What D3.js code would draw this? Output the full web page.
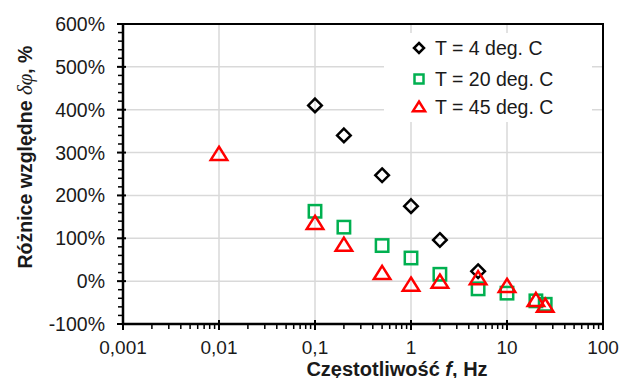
<!DOCTYPE html>
<html>
<head>
<meta charset="utf-8">
<script src="https://cdn.jsdelivr.net/npm/d3@7"></script>
<style>
  body { margin: 0; background: #fff; }
  text { font-family: Arial, "Liberation Sans", sans-serif; }
</style>
</head>
<body>
<svg id="chart" width="633" height="378"></svg>
<script>
// frequencies (Hz) and relative differences (%)
var freq4 = [0.1, 0.2, 0.5, 1, 2, 5];
var diff4 = [410, 340, 247, 175, 96, 23];

var freq20 = [0.1, 0.2, 0.5, 1, 2, 5, 10, 20, 25];
var diff20 = [163, 126, 83, 54, 16, -18, -28, -46, -54];

var freq45 = [0.01, 0.1, 0.2, 0.5, 1, 2, 5, 10, 20, 25];
var diff45 = [296, 135, 84, 18, -9, -2, 6, -12, -45, -58];

var xTicks = [0.001, 0.01, 0.1, 1, 10, 100];
var xTickLabels = ['0,001', '0,01', '0,1', '1', '10', '100'];
var yTicks = [-100, 0, 100, 200, 300, 400, 500, 600];

var seriesNames = ['T = 4 deg. C', 'T = 20 deg. C', 'T = 45 deg. C'];

var pLeft = 123, pRight = 603, pTop = 24, pBottom = 324;

var svg = d3.select('#chart');

var x = d3.scaleLog().domain([0.001, 100]).range([pLeft, pRight]);
var y = d3.scaleLinear().domain([-100, 600]).range([pBottom, pTop]);

// grid
var grid = svg.append('g').attr('stroke', '#d9d9d9').attr('stroke-width', 1.5);
grid.selectAll('line.h')
    .data(yTicks.filter(function(d) { return d > -100 && d < 600; }))
    .enter().append('line')
    .attr('x1', pLeft).attr('x2', pRight)
    .attr('y1', function(d) { return y(d); })
    .attr('y2', function(d) { return y(d); });
grid.selectAll('line.v')
    .data(xTicks.filter(function(d) { return d > 0.001 && d < 100; }))
    .enter().append('line')
    .attr('y1', pTop).attr('y2', pBottom)
    .attr('x1', function(d) { return x(d); })
    .attr('x2', function(d) { return x(d); });

// border top / right
svg.append('path')
    .attr('d', 'M' + pLeft + ',' + pTop + 'H' + pRight + 'V' + pBottom)
    .attr('fill', 'none').attr('stroke', '#000').attr('stroke-width', 2);

// y minor ticks
var yMinor = d3.range(-100, 601, 20).filter(function(d) { return d % 100 !== 0; });
svg.append('g').selectAll('line')
    .data(yMinor).enter().append('line')
    .attr('x1', pLeft - 5).attr('x2', pLeft)
    .attr('y1', function(d) { return y(d); })
    .attr('y2', function(d) { return y(d); })
    .attr('stroke', '#000').attr('stroke-width', 1.5);

// y major ticks
svg.append('g').selectAll('line')
    .data(yTicks).enter().append('line')
    .attr('x1', pLeft - 6).attr('x2', pLeft + 3)
    .attr('y1', function(d) { return y(d); })
    .attr('y2', function(d) { return y(d); })
    .attr('stroke', '#000').attr('stroke-width', 2);

// x minor ticks
var xMinor = [];
xTicks.slice(0, -1).forEach(function(t) {
    for (var k = 2; k <= 9; k++) xMinor.push(t * k);
});
svg.append('g').selectAll('line')
    .data(xMinor).enter().append('line')
    .attr('x1', function(d) { return x(d); })
    .attr('x2', function(d) { return x(d); })
    .attr('y1', pBottom).attr('y2', pBottom + 5)
    .attr('stroke', '#000').attr('stroke-width', 1.5);

// x major ticks
svg.append('g').selectAll('line')
    .data(xTicks).enter().append('line')
    .attr('x1', function(d) { return x(d); })
    .attr('x2', function(d) { return x(d); })
    .attr('y1', pBottom - 4).attr('y2', pBottom + 6)
    .attr('stroke', '#000').attr('stroke-width', 2);

// axis lines
svg.append('path')
    .attr('d', 'M' + pLeft + ',' + pTop + 'V' + pBottom + 'H' + pRight)
    .attr('fill', 'none').attr('stroke', '#000').attr('stroke-width', 2.5);

// tick labels
svg.append('g').selectAll('text')
    .data(yTicks).enter().append('text')
    .attr('x', pLeft - 18)
    .attr('y', function(d) { return y(d); })
    .attr('dy', '0.36em')
    .attr('text-anchor', 'end')
    .attr('font-size', 19.5)
    .attr('fill', '#1a1a1a')
    .text(function(d) { return d + '%'; });

svg.append('g').selectAll('text')
    .data(xTicks).enter().append('text')
    .attr('x', function(d) { return x(d); })
    .attr('y', 354)
    .attr('text-anchor', 'middle')
    .attr('font-size', 19)
    .attr('fill', '#1a1a1a')
    .text(function(d, i) { return xTickLabels[i]; });

// axis titles
var xt = svg.append('text')
    .attr('x', 397).attr('y', 375.5)
    .attr('text-anchor', 'middle')
    .attr('font-size', 20).attr('font-weight', 'bold').attr('fill', '#1a1a1a');
xt.append('tspan').text('Częstotliwość ');
xt.append('tspan').attr('font-style', 'italic').text('f');
xt.append('tspan').text(', Hz');

var yt = svg.append('text')
    .attr('transform', 'translate(32,157) rotate(-90)')
    .attr('text-anchor', 'middle')
    .attr('font-size', 19.5).attr('font-weight', 'bold').attr('fill', '#1a1a1a');
yt.append('tspan').text('Różnice względne ');
yt.append('tspan').attr('font-style', 'italic').attr('font-weight', 'normal')
    .attr('font-size', 21)
    .attr('font-family', 'Times New Roman, Liberation Serif, serif').text('δφ');
yt.append('tspan').text(', %');

// markers
function diamond(g, s) {
    g.append('path').attr('d', 'M0,' + (-s) + 'L' + s + ',0L0,' + s + 'L' + (-s) + ',0Z')
        .attr('fill', 'none').attr('stroke', '#000').attr('stroke-width', 2.5);
}
function square(g, s) {
    g.append('rect').attr('x', -s).attr('y', -s).attr('width', 2 * s).attr('height', 2 * s)
        .attr('fill', 'none').attr('stroke', '#00b050').attr('stroke-width', 2.5);
}
function triangle(g, s) {
    g.append('path').attr('d', 'M0,' + (-s) + 'L' + (s * 1.1) + ',' + (s * 0.75) + 'L' + (-s * 1.1) + ',' + (s * 0.75) + 'Z')
        .attr('fill', 'none').attr('stroke', '#ff0000').attr('stroke-width', 2.5);
}

function plotSeries(fs, vs, draw, s) {
    var pts = fs.map(function(f, i) { return [f, vs[i]]; });
    svg.append('g').selectAll('g')
        .data(pts).enter().append('g')
        .attr('transform', function(d) { return 'translate(' + x(d[0]) + ',' + y(d[1]) + ')'; })
        .each(function() { draw(d3.select(this), s); });
}

plotSeries(freq4, diff4, diamond, 6.8);
plotSeries(freq20, diff20, square, 6.2);
plotSeries(freq45, diff45, triangle, 7.5);

// legend
var lg = svg.append('g');
lg.append('rect').attr('x', 384).attr('y', 33).attr('width', 208).attr('height', 89).attr('fill', '#fff');
var rows = [48, 79, 107];
var drawers = [diamond, square, triangle];
var sizes = [5, 4.5, 5.5];
seriesNames.forEach(function(n, i) {
    var g = lg.append('g').attr('transform', 'translate(419,' + rows[i] + ')');
    drawers[i](g, sizes[i]);
    lg.append('text').attr('x', 435).attr('y', rows[i]).attr('dy', '0.36em')
        .attr('font-size', 19.5).attr('fill', '#1a1a1a').text(n);
});
</script>
</body>
</html>
